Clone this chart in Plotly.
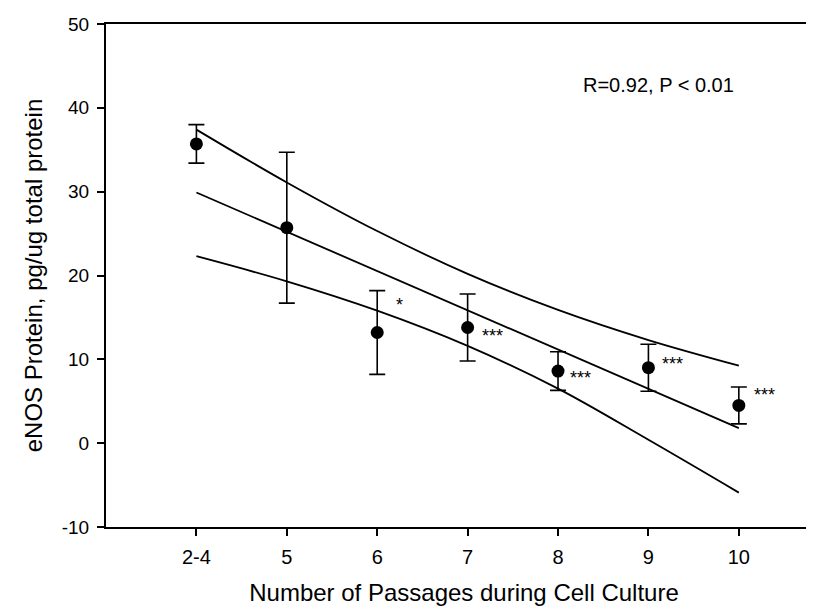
import plotly.graph_objects as go

categories = ["2-4", "5", "6", "7", "8", "9", "10"]
positions = [0, 1, 2, 3, 4, 5, 6]
means = [35.7, 25.7, 13.2, 13.8, 8.6, 9.0, 4.5]
errors = [2.3, 9.0, 5.0, 4.0, 2.3, 2.8, 2.2]

fit_x = [0, 6]
fit_y = [29.9, 1.8]
upper_band = [37.4, 31.1, 25.3, 20.2, 15.9, 12.3, 9.25]
lower_band = [22.3, 19.3, 15.8, 11.6, 6.5, 0.4, -5.9]

sig_labels = ["", "", "*", "***", "***", "***", "***"]
sig_x = [None, None, 2.25, 3.27, 4.25, 5.27, 6.28]
sig_y = [None, None, 16.5, 12.8, 7.8, 9.4, 5.7]

y_ticks = [-10, 0, 10, 20, 30, 40, 50]
y_tick_labels = ["-10", "0", "10", "20", "30", "40", "50"]

FONT = "Liberation Sans, Arial, sans-serif"

fig = go.Figure()
line_style = dict(color="black", width=1.8)
fig.add_trace(go.Scatter(x=positions, y=upper_band, mode="lines", line=dict(shape="spline", smoothing=1.0, **line_style), hoverinfo="skip"))
fig.add_trace(go.Scatter(x=positions, y=lower_band, mode="lines", line=dict(shape="spline", smoothing=1.0, **line_style), hoverinfo="skip"))
fig.add_trace(go.Scatter(x=fit_x, y=fit_y, mode="lines", line=line_style, hoverinfo="skip"))
fig.add_trace(go.Scatter(
    x=positions, y=means, mode="markers",
    marker=dict(color="black", size=13),
    error_y=dict(type="data", array=errors, color="black", thickness=1.6, width=8),
))

for lab, sx, sy in zip(sig_labels, sig_x, sig_y):
    if lab:
        fig.add_annotation(x=sx, y=sy, text=lab, showarrow=False, xref="x", yref="y",
                           font=dict(family=FONT, size=18, color="black"))

fig.add_annotation(x=5.11, y=42.7, text="R=0.92, P < 0.01", showarrow=False, xref="x", yref="y",
                   font=dict(family=FONT, size=20, color="black"))

fig.update_layout(
    width=814, height=609,
    margin=dict(l=98, r=0, t=16, b=90),
    paper_bgcolor="white", plot_bgcolor="white",
    showlegend=False,
    font=dict(family=FONT, color="black"),
)
fig.update_xaxes(
    range=[-1.0, 6.92], tickvals=positions, ticktext=categories,
    showgrid=False, zeroline=False, showline=True, linecolor="black", linewidth=2,
    mirror=True, ticks="outside", ticklen=7, tickwidth=1.5, tickcolor="black",
    tickfont=dict(family=FONT, size=20), ticklabelstandoff=4,
    title=dict(text="Number of Passages during Cell Culture", font=dict(family=FONT, size=24), standoff=17),
)
fig.update_yaxes(
    range=[-10, 50], tickvals=y_ticks, ticktext=y_tick_labels,
    showgrid=False, zeroline=False, showline=True, linecolor="black", linewidth=2,
    ticks="outside", ticklen=7, tickwidth=1.5, tickcolor="black",
    tickfont=dict(family=FONT, size=19), ticklabelstandoff=4,
    title=dict(text="eNOS Protein, pg/ug total protein", font=dict(family=FONT, size=24), standoff=12),
)

fig.write_html("out.html")
